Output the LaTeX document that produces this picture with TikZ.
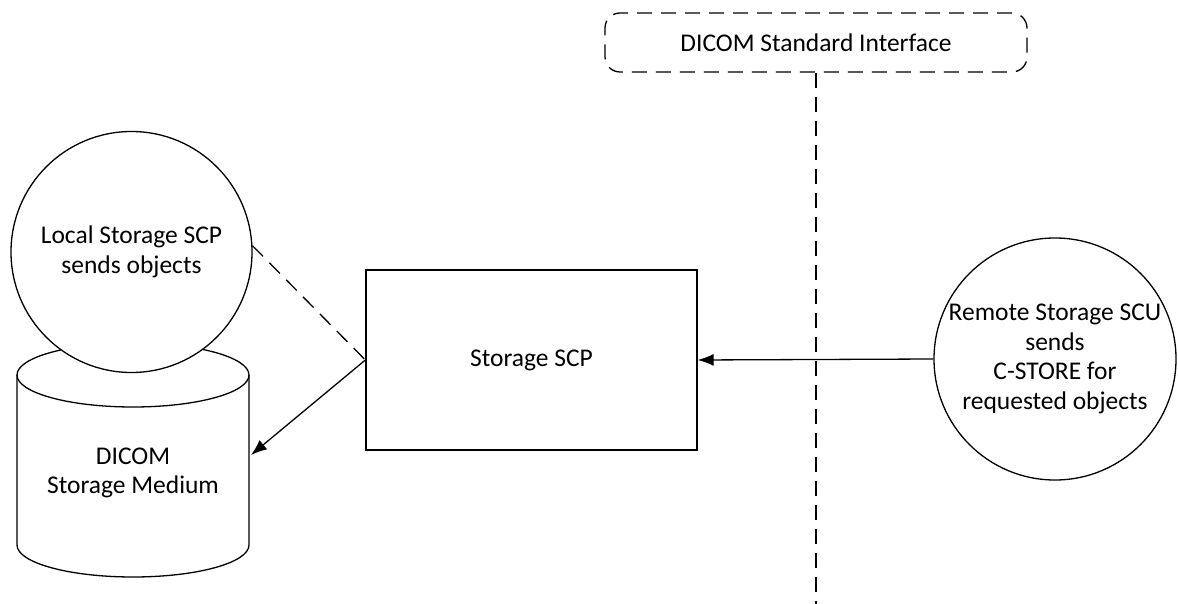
\documentclass[tikz,border=0pt]{standalone}
\usepackage{fontspec}
\setmainfont{Carlito}
\usepackage{tikz}
\usetikzlibrary{arrows.meta,positioning}

\begin{document}
\begin{tikzpicture}[>={Latex[length=16pt,width=12pt]}, x=1pt, y=-1pt, line width=1.3pt,
  every node/.style={font=\fontsize{25.5}{29.5}\selectfont, align=center},
  dashline/.style={dash pattern=on 15pt off 9pt}]
\useasboundingbox (0,0) rectangle (1178,604);
% interface marker
\node[draw, dashline, rounded corners=15pt, minimum width=422pt, minimum height=59pt] (iface) at (816,42.5) {DICOM Standard Interface};
\coordinate (ifaceend) at (816,604);
\draw[dashline] (iface.south) -- (ifaceend);
% storage medium
\draw[fill=white] (17,375) -- (17,545) arc[start angle=180, end angle=0, x radius=116, y radius=32] -- (249,375);
\draw (133,375) ellipse[x radius=116, y radius=32];
\node (medium) at (133,473) {DICOM\\Storage Medium};
\coordinate (medin) at (251,455);
% local and remote
\node[circle, draw, fill=white, minimum size=241pt, inner sep=-10pt] (local) at (131.5,252) {Local Storage SCP\\sends objects};
\node[draw, minimum width=331pt, minimum height=180pt] (scp) at (531.5,360) {Storage SCP};
\node[circle, draw, minimum size=242pt, inner sep=-14pt] (remote) at (1055,359) {Remote Storage SCU\\sends\\C-STORE for\\requested objects};
\draw[dashline] (local.3) -- (scp.west);
\draw[->] (scp.west) -- (medin);
\draw[->] (remote.west) -- (scp.east);
\end{tikzpicture}
\end{document}
